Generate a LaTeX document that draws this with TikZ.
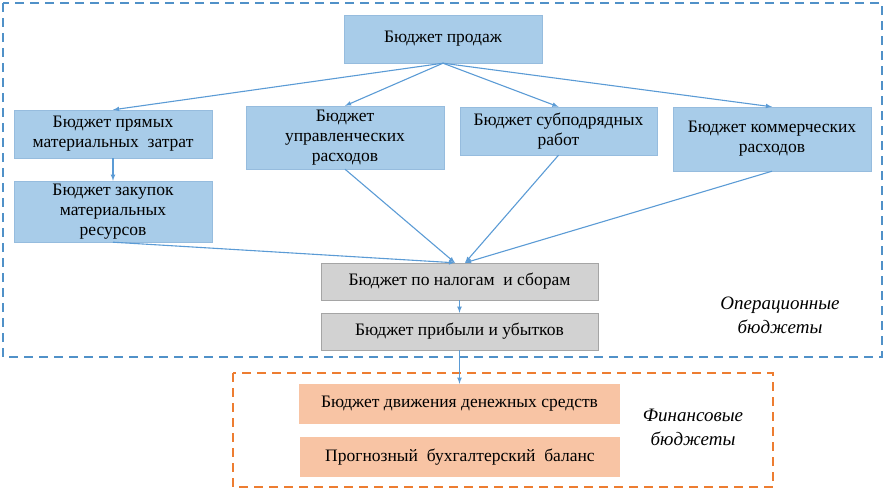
\documentclass[tikz,border=0pt]{standalone}
\usepackage{fontspec}
\setmainfont{Liberation Serif}
\definecolor{boxblue}{RGB}{168,204,233}
\definecolor{edgeblue}{RGB}{150,188,222}
\definecolor{boxgray}{RGB}{210,210,210}
\definecolor{edgegray}{RGB}{165,165,165}
\definecolor{boxorange}{RGB}{248,196,164}
\definecolor{arrowblue}{RGB}{91,155,213}
\definecolor{frameblue}{RGB}{80,145,200}
\definecolor{frameorange}{RGB}{237,125,49}
\begin{document}
\begin{tikzpicture}[x=1pt,y=-1pt,
  box/.style={align=center,inner sep=1pt,font=\fontsize{17.5}{20}\selectfont},
  bluebox/.style={box,fill=boxblue,draw=edgeblue},
  graybox/.style={box,fill=boxgray,draw=edgegray},
  orangebox/.style={box,fill=boxorange},
  link/.style={arrowblue,line width=1.1pt,-latex},
  frame/.style={line width=1.4pt,dash pattern=on 9pt off 6pt},
  groupname/.style={align=center,font=\itshape\fontsize{19}{24}\selectfont}]
  \useasboundingbox (0,0) rectangle (886,490);
  \draw[frame,frameblue] (3,3) rectangle (882,357);
  \draw[frame,frameorange] (233,373) rectangle (773,487);
  % operating budgets
  \node[bluebox,minimum width=198pt,minimum height=48pt] (sales) at (443,39) {Бюджет продаж};
  \node[bluebox,minimum width=198pt,minimum height=48pt] (direct) at (113,134) {Бюджет прямых\\материальных~ затрат};
  \node[bluebox,minimum width=198pt,minimum height=61pt] (purchase) at (113,211.5) {Бюджет закупок\\материальных\\ресурсов};
  \node[bluebox,minimum width=198pt,minimum height=63pt] (admin) at (345,137.5) {Бюджет\\управленческих\\расходов};
  \node[bluebox,minimum width=197pt,minimum height=48pt] (subcon) at (558.5,131) {Бюджет субподрядных\\работ};
  \node[bluebox,minimum width=198pt,minimum height=64pt] (comm) at (772,139) {Бюджет коммерческих\\расходов};
  \node[graybox,minimum width=277pt,minimum height=37pt] (tax) at (459.5,281.5) {Бюджет по налогам~ и сборам};
  \node[graybox,minimum width=277pt,minimum height=37pt] (profit) at (459.5,331.5) {Бюджет прибыли и убытков};
  % financial budgets
  \node[orangebox,minimum width=321pt,minimum height=40pt] (cash) at (459.5,404) {Бюджет движения денежных средств};
  \node[orangebox,minimum width=320pt,minimum height=40pt] (balance) at (460,457) {Прогнозный~ бухгалтерский~ баланс};
  \node[groupname] (oplabel) at (780,315) {Операционные\\бюджеты};
  \node[groupname] (finlabel) at (693,427) {Финансовые\\бюджеты};
  \draw[link] (sales.south) -- (direct.north);
  \draw[link] (sales.south) -- (admin.north);
  \draw[link] (sales.south) -- (subcon.north);
  \draw[link] (sales.south) -- (comm.north);
  \draw[link] (direct.south) -- (purchase.north);
  \draw[link] (purchase.south) -- ([xshift=-4.5pt]tax.north);
  \draw[link] (admin.south) -- ([xshift=-4.5pt]tax.north);
  \draw[link] (subcon.south) -- ([xshift=5.5pt]tax.north);
  \draw[link] (comm.south) -- ([xshift=5.5pt]tax.north);
  \draw[link] (tax.south) -- (profit.north);
  \draw[link] (profit.south) -- (cash.north);
\end{tikzpicture}
\end{document}
